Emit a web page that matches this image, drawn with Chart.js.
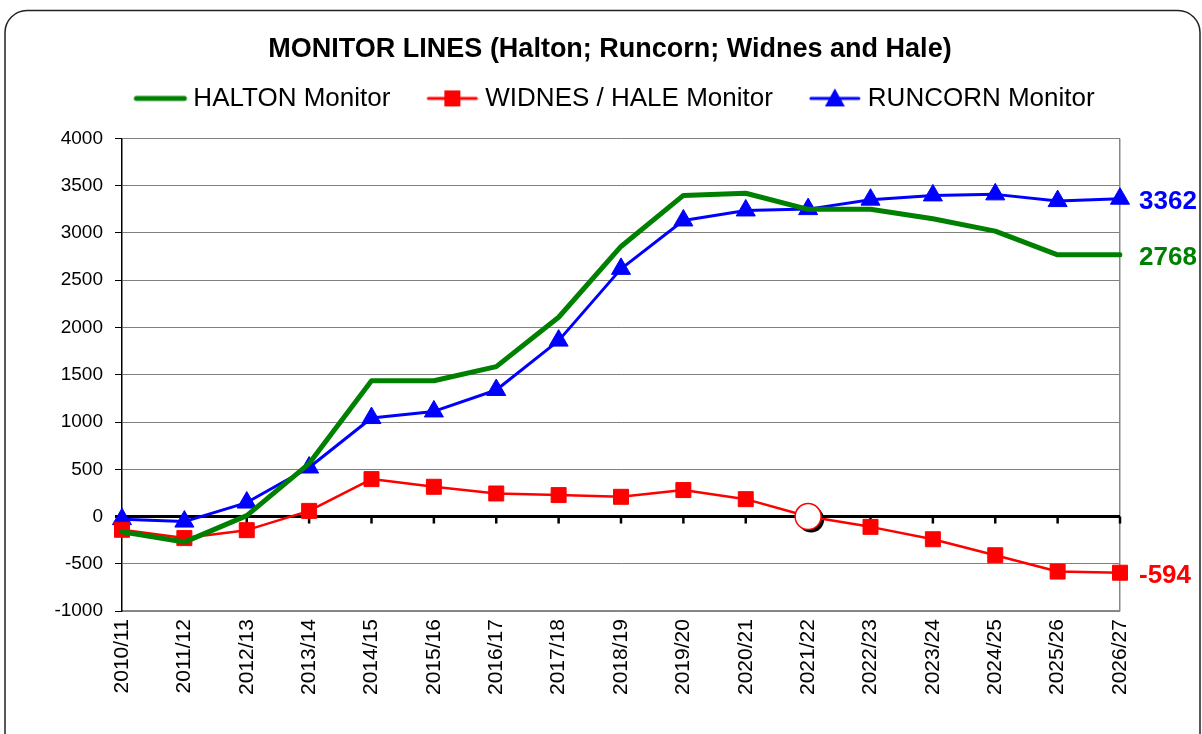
<!DOCTYPE html>
<html><head><meta charset="utf-8">
<script src="https://cdn.jsdelivr.net/npm/chart.js@4/dist/chart.umd.min.js"></script>
<style>html,body{margin:0;padding:0;background:#fff;}#wrap{width:1202px;height:734px;position:relative;}</style>
</head><body><div id="wrap"><canvas id="c" width="1202" height="734"></canvas></div>
<script>
const categories = ['2010/11','2011/12','2012/13','2013/14','2014/15','2015/16','2016/17','2017/18','2018/19','2019/20','2020/21','2021/22','2022/23','2023/24','2024/25','2025/26','2026/27'];
const haltonValues  = [-160, -270, 10, 560, 1437, 1437, 1586, 2108, 2857, 3397, 3420, 3250, 3250, 3150, 3019, 2768, 2768];
const widnesValues  = [-140, -228, -144, 60, 396, 315, 244, 227, 209, 280, 184, 0, -109, -240, -409, -582, -594];
const runcornValues = [-28, -53, 148, 519, 1042, 1112, 1339, 1861, 2620, 3132, 3238, 3252, 3352, 3397, 3408, 3337, 3362];
const seriesNames = ['HALTON Monitor', 'WIDNES / HALE Monitor', 'RUNCORN Monitor'];
const yMin = -1000, yMax = 4000, yStep = 500;
const highlightIndex = 11; // white circle marker on the WIDNES / HALE line

const FONT = '"Liberation Sans", Arial, Helvetica, sans-serif';
const GREEN = '#008000', RED = '#FF0000', BLUE = '#0000FF';

function legendIcon(color, lw, marker) {
  const c = document.createElement('canvas'); c.width = 101; c.height = 22;
  const g = c.getContext('2d');
  const x0 = 32, x1 = 84, cx = 58, cy = 11;
  g.strokeStyle = color; g.lineWidth = lw; g.lineCap = 'round';
  g.beginPath(); g.moveTo(x0 + 2, cy); g.lineTo(x1 - 2, cy); g.stroke();
  g.fillStyle = color;
  if (marker === 'rect') g.fillRect(cx - 8, cy - 8, 16, 16);
  if (marker === 'triangle') { g.beginPath(); g.moveTo(cx, cy - 10); g.lineTo(cx + 10, cy + 8); g.lineTo(cx - 10, cy + 8); g.closePath(); g.fill(); }
  return c;
}
const icons = [legendIcon(GREEN, 5, null), legendIcon(RED, 3, 'rect'), legendIcon(BLUE, 3, 'triangle')];

const decor = {
  id: 'decor',
  beforeDraw(chart) {
    const ctx = chart.ctx; ctx.save();
    ctx.fillStyle = '#fff'; ctx.fillRect(0, 0, chart.width, chart.height);
    ctx.strokeStyle = '#222'; ctx.lineWidth = 1.5;
    ctx.beginPath(); ctx.roundRect(5, 10.5, 1195, 800, 22); ctx.stroke();
    ctx.restore();
  },
  beforeDatasetsDraw(chart) {
    const ctx = chart.ctx, xs = chart.scales.x, ys = chart.scales.y;
    const y0 = ys.getPixelForValue(0);
    ctx.save(); ctx.strokeStyle = '#000'; ctx.lineWidth = 2.5;
    categories.forEach((c, i) => {
      const px = xs.getPixelForValue(i);
      ctx.beginPath(); ctx.moveTo(px, y0); ctx.lineTo(px, y0 + 7); ctx.stroke();
    });
    const p = chart.getDatasetMeta(1).data[highlightIndex];
    ctx.fillStyle = '#000';
    ctx.beginPath(); ctx.arc(p.x + 3, p.y + 3, 13, 0, Math.PI * 2); ctx.fill();
    ctx.restore();
  },
  afterDatasetsDraw(chart) {
    const ctx = chart.ctx; ctx.save();
    ctx.font = 'bold 26px ' + FONT; ctx.textAlign = 'left'; ctx.textBaseline = 'middle';
    chart.data.datasets.forEach((ds, i) => {
      const meta = chart.getDatasetMeta(i);
      const last = meta.data[meta.data.length - 1];
      ctx.fillStyle = ds.borderColor;
      ctx.fillText(String(ds.data[ds.data.length - 1]), last.x + 19, last.y + 3);
    });
    ctx.restore();
  }
};

new Chart(document.getElementById('c'), {
  type: 'line',
  data: {
    labels: categories,
    datasets: [
      { label: seriesNames[0], data: haltonValues, borderColor: GREEN, backgroundColor: GREEN, borderWidth: 5, pointRadius: 0, borderJoinStyle: 'round', borderCapStyle: 'round' },
      { label: seriesNames[1], data: widnesValues, borderColor: RED, backgroundColor: RED, borderWidth: 2.5, borderJoinStyle: 'round',
        pointStyle: widnesValues.map((v, i) => i === highlightIndex ? 'circle' : 'rect'),
        pointRadius: widnesValues.map((v, i) => i === highlightIndex ? 13 : 10.6),
        pointBackgroundColor: widnesValues.map((v, i) => i === highlightIndex ? '#fff' : RED),
        pointBorderColor: RED,
        pointBorderWidth: widnesValues.map((v, i) => i === highlightIndex ? 1.5 : 1) },
      { label: seriesNames[2], data: runcornValues, borderColor: BLUE, backgroundColor: BLUE, borderWidth: 3, borderJoinStyle: 'round',
        pointStyle: 'triangle', pointRadius: 11, pointBorderWidth: 1, pointBackgroundColor: BLUE, pointBorderColor: BLUE }
    ]
  },
  options: {
    responsive: false, animation: false,
    layout: { padding: { left: 18, right: 0, top: 0, bottom: 31 } },
    plugins: {
      title: { display: true, text: 'MONITOR LINES (Halton; Runcorn; Widnes and Hale)', color: '#000',
        font: { family: FONT, size: 27, weight: 'bold' }, padding: { top: 33, bottom: -7 } },
      legend: { display: true, position: 'top',
        labels: { color: '#000', font: { family: FONT, size: 26 }, usePointStyle: true, pointStyleWidth: 55, boxHeight: 22, padding: 27,
          generateLabels(chart) {
            return Chart.defaults.plugins.legend.labels.generateLabels(chart).map((it, i) => Object.assign(it, { pointStyle: icons[i] }));
          } } },
      tooltip: { enabled: false }
    },
    scales: {
      x: {
        grid: { display: true, drawTicks: false, color: c => c.index === categories.length - 1 ? '#888' : 'rgba(0,0,0,0)', lineWidth: 1.5 },
        border: { display: true, color: '#888', width: 1.5 },
        ticks: { color: '#000', font: { family: FONT, size: 21 }, maxRotation: 90, minRotation: 90, padding: 8, autoSkip: false }
      },
      xTop: {
        type: 'category', position: 'top', display: true,
        afterFit: s => { s.height = 17; },
        grid: { display: false }, border: { display: false }, ticks: { display: false }
      },
      y: {
        min: yMin, max: yMax,
        afterFit: s => { s.width = 104; },
        grid: { color: c => c.tick && c.tick.value === 0 ? '#000' : '#808080', lineWidth: c => c.tick && c.tick.value === 0 ? 3 : 1, tickColor: '#000', tickLength: 7 },
        border: { display: true, color: '#000', width: 1.5 },
        ticks: { stepSize: yStep, color: '#000', font: { family: FONT, size: 19 }, padding: 12, callback: v => String(v) }
      },
      yRight: {
        position: 'right', min: yMin, max: yMax, display: true,
        afterFit: s => { s.width = 82; },
        grid: { display: false }, border: { display: false }, ticks: { display: false }
      }
    }
  },
  plugins: [decor]
});
</script></body></html>
